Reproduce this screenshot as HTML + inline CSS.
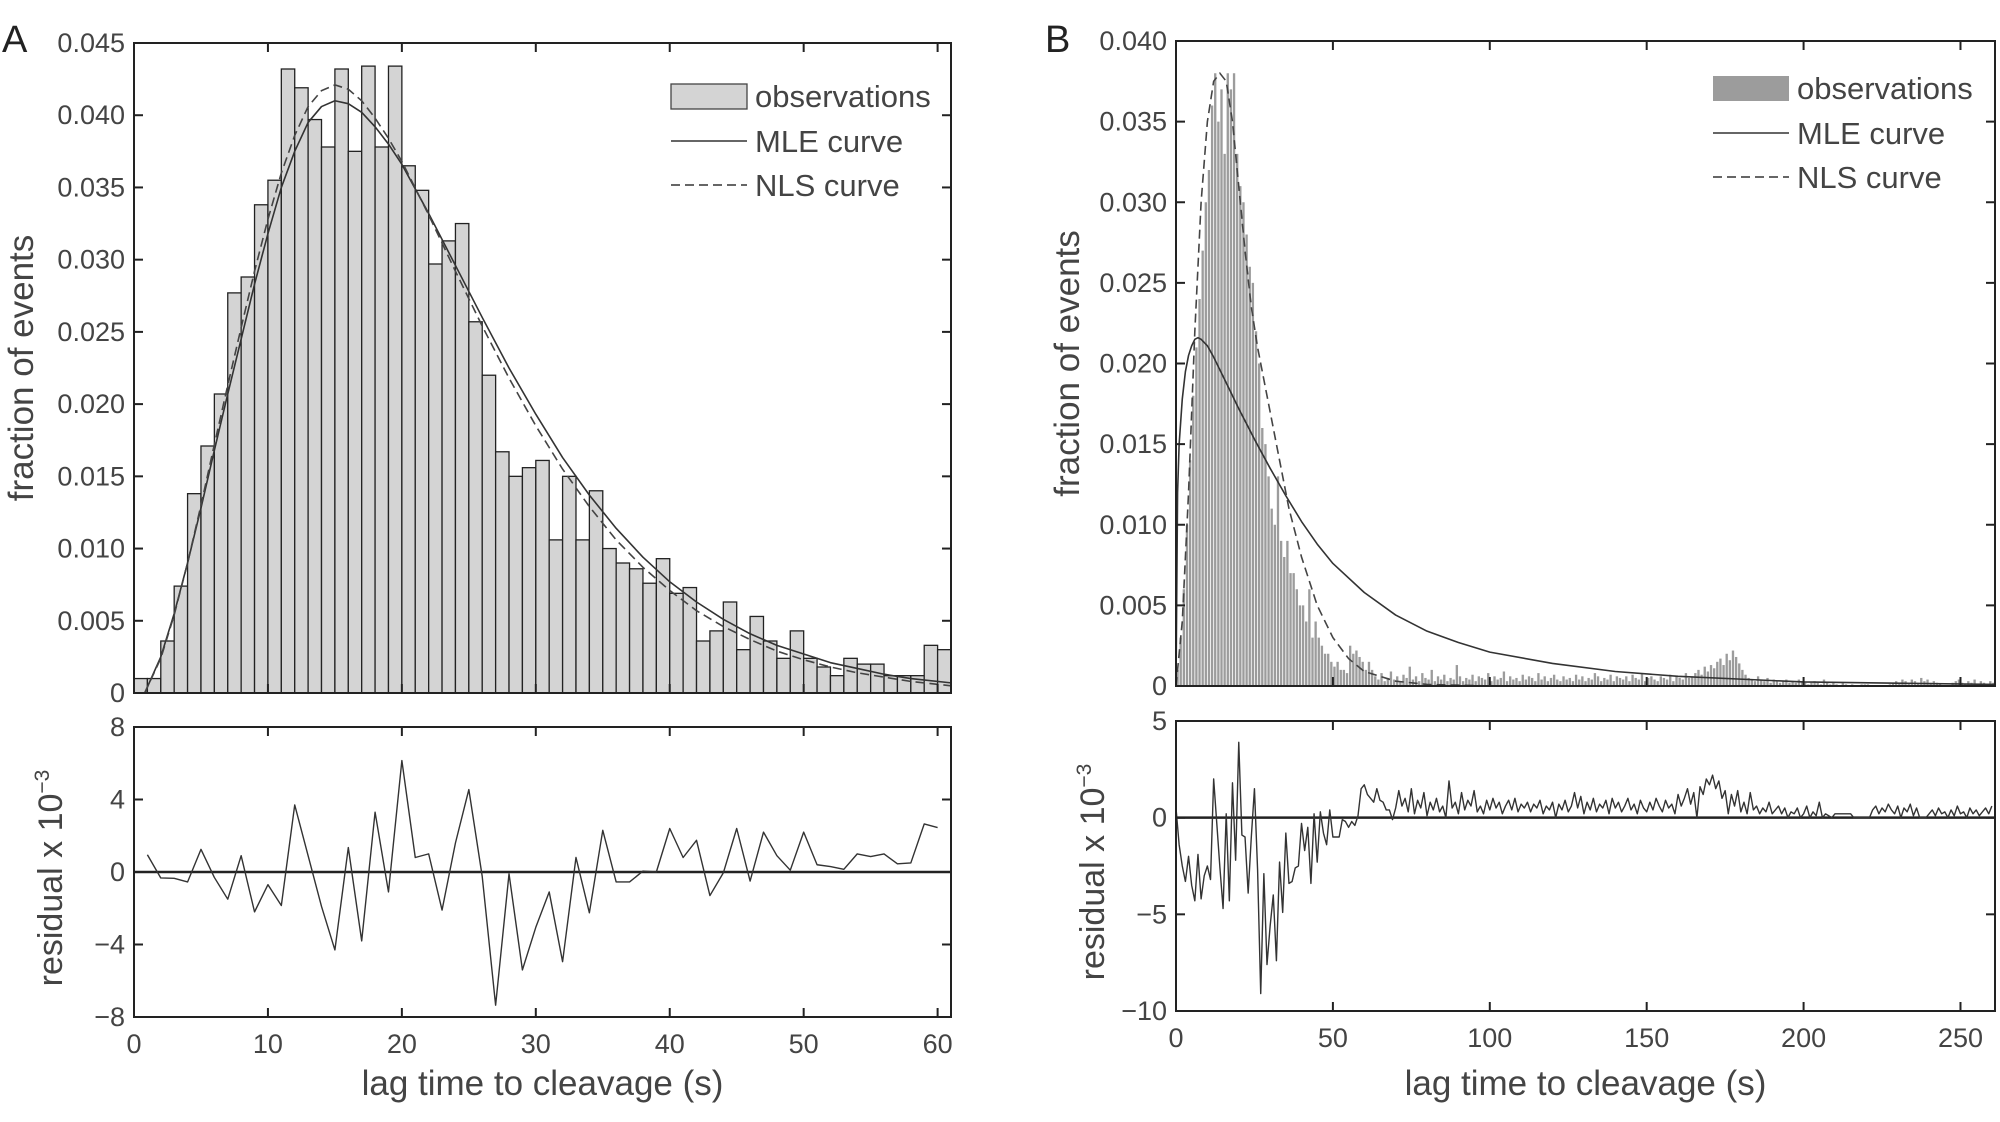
<!DOCTYPE html>
<html><head><meta charset="utf-8"><style>
html,body{margin:0;padding:0;background:#fff;}
svg{display:block;font-family:"Liberation Sans",sans-serif;}
</style></head><body>
<svg id="fig" width="2000" height="1122" viewBox="0 0 2000 1122"></svg>
<script>
// ---------- Panel A data ----------
const barsA = [0.001,0.001,0.0036,0.0074,0.0138,0.0171,0.0207,0.0277,0.0288,0.0338,0.0355,0.0432,0.0419,0.0397,0.0378,0.0432,0.0375,0.0434,0.0378,0.0434,0.0365,0.0348,0.0297,0.0313,0.0325,0.0257,0.0220,0.0167,0.0150,0.0156,0.0161,0.0106,0.0150,0.0106,0.0140,0.0100,0.0090,0.0086,0.0076,0.0093,0.0069,0.0073,0.0036,0.0043,0.0063,0.0030,0.0053,0.0036,0.0024,0.0043,0.0024,0.0018,0.0012,0.0024,0.0020,0.0020,0.0012,0.0012,0.0012,0.0033,0.0030];
const curveAx = [0.8,2,3,4,5,6,7,8,9,10,11,12,13,14,15,16,17,18,19,20,22,24,26,28,30,32,34,36,38,40,42,44,46,48,50,52,54,56,58,61];
const mleA = [0,0.0025,0.0055,0.009,0.0128,0.0168,0.0207,0.0245,0.0283,0.0318,0.0350,0.0375,0.0395,0.0406,0.0410,0.0408,0.0402,0.0392,0.0380,0.0366,0.0332,0.0296,0.0260,0.0225,0.0193,0.0163,0.0137,0.0114,0.0094,0.0077,0.0063,0.0051,0.0041,0.0033,0.0027,0.0021,0.0017,0.0013,0.0010,0.0007];
const nlsA = [0,0.0024,0.0054,0.009,0.013,0.0172,0.0213,0.0253,0.0292,0.0328,0.0360,0.0386,0.0406,0.0417,0.0421,0.0418,0.0410,0.0398,0.0384,0.0368,0.0331,0.0292,0.0254,0.0218,0.0185,0.0155,0.0129,0.0106,0.0087,0.0071,0.0057,0.0046,0.0037,0.0029,0.0023,0.0018,0.0014,0.0011,0.0008,0.0005];
const residA = [0.95,-0.33,-0.35,-0.55,1.25,-0.3,-1.5,0.9,-2.2,-0.7,-1.85,3.7,0.9,-1.9,-4.3,1.35,-3.8,3.3,-1.1,6.15,0.8,1.0,-2.1,1.6,4.55,-0.25,-7.35,-0.1,-5.4,-3.05,-1.1,-4.95,0.8,-2.25,2.3,-0.55,-0.55,0.05,0,2.4,0.8,1.75,-1.3,-0.05,2.4,-0.5,2.2,0.9,0.1,2.2,0.4,0.3,0.15,1.0,0.85,1.0,0.45,0.5,2.65,2.45];
const yTicksA = [0,0.005,0.010,0.015,0.020,0.025,0.030,0.035,0.040,0.045];
const yTickLabelsA = ["0","0.005","0.010","0.015","0.020","0.025","0.030","0.035","0.040","0.045"];
const xTicksA = [0,10,20,30,40,50,60];
const rTicksA = [8,4,0,-4,-8];
const rTickLabelsA = ["8","4","0","\u22124","\u22128"];
// ---------- Panel B data ----------
const barsB = [0.001,0.003,0.006,0.010,0.014,0.018,0.021,0.024,0.027,0.030,0.032,0.036,0.038,0.035,0.037,0.033,0.038,0.037,0.038,0.033,0.031,0.030,0.028,0.026,0.025,0.022,0.020,0.016,0.015,0.013,0.011,0.010,0.013,0.009,0.008,0.009,0.007,0.007,0.006,0.005,0.005,0.004,0.006,0.003,0.004,0.003,0.0025,0.002,0.002,0.0015,0.0012,0.0015,0.001,0.001,0.0008,0.0025,0.002,0.0022,0.0018,0.0015,0.001,0.0015,0.001,
.0006,.0004,.0008,.0003,.0005,.0009,.0004,.0006,.0003,.0007,
.0005,.0012,.0004,.0006,.0003,.0008,.0005,.0004,.0010,.0003,
.0006,.0004,.0007,.0003,.0005,.0004,.0013,.0006,.0003,.0005,
.0004,.0007,.0003,.0006,.0005,.0004,.0008,.0003,.0006,.0004,
.0005,.0009,.0003,.0006,.0004,.0005,.0003,.0007,.0004,.0006,
.0005,.0003,.0008,.0004,.0006,.0003,.0005,.0007,.0004,.0003,
.0006,.0004,.0005,.0003,.0007,.0004,.0006,.0003,.0005,.0004,
.0008,.0006,.0003,.0005,.0004,.0007,.0003,.0006,.0005,.0004,
.0006,.0003,.0007,.0005,.0004,.0008,.0003,.0005,.0006,.0004,
.0003,.0006,.0005,.0004,.0007,.0003,.0006,.0005,.0004,.0008,
.0005,.0006,.0008,.0010,.0007,.0012,.0009,.0013,.0011,.0015,
.0017,.0013,.0020,.0016,.0022,.0018,.0014,.0010,.0007,.0005,
.0004,.0003,.0006,.0004,.0003,.0005,.0002,.0004,.0003,.0002,
.0003,.0004,.0002,.0003,.0002,.0004,.0003,.0002,.0001,.0002,
.0003,.0002,.0001,.0004,.0002,.0001,.0002,.0001,0,.0002,
.0001,0,.0001,0,0,.0001,.0001,.0001,0,0,
0,0,0,0,.0001,.0002,.0003,.0002,.0004,.0003,
.0002,.0004,.0003,.0002,.0005,.0003,.0004,.0002,.0003,.0002,
.0001,0,0,0,.0002,.0003,.0004,.0002,.0001,.0003,
.0002,.0004,.0001,.0003,.0002,.0001,.0003,.0002];
const mleBx = [0,0.5,1,2,3,4,5,6,7,8,10,12,15,20,25,30,35,40,45,50,60,70,80,90,100,120,140,160,200,261];
const mleB = [0,0.012,0.015,0.0178,0.0195,0.0205,0.0211,0.0215,0.0216,0.0215,0.0211,0.0204,0.0192,0.0172,0.0153,0.0135,0.0118,0.0102,0.0088,0.0076,0.0058,0.0044,0.0034,0.0027,0.0021,0.0014,0.0009,0.0006,0.00025,0.0001];
const nlsBx = [0,2,4,6,8,10,12,14,16,18,20,22,24,26,28,30,32,34,36,38,40,45,50,55,60,70,80,100,261];
const nlsB = [0,0.004,0.012,0.022,0.030,0.035,0.0375,0.038,0.0375,0.035,0.031,0.027,0.0235,0.021,0.019,0.017,0.015,0.013,0.011,0.0095,0.008,0.005,0.003,0.0017,0.0009,0.0003,0.0001,0,0];
const residB = [0.5,-1.4,-2.5,-3.3,-2.0,-3.5,-4.3,-1.9,-4.2,-3.0,-2.5,-3.2,2.0,-0.3,-2.6,-4.7,0.2,-4.3,1.8,-2.2,3.9,-0.9,-1.0,-3.9,-1.0,1.5,-2.7,-9.1,-2.9,-7.6,-5.6,-4.0,-7.4,-2.3,-4.9,-0.8,-3.4,-3.3,-2.6,-2.5,-0.3,-1.7,-0.5,-3.4,0.2,-2.3,0.3,-0.8,-1.4,0.4,-1.0,-1.0,-1.0,-0.1,-0.2,-0.5,-0.2,-0.4,0.1,1.5,1.7,1.2,1.0,0.8,1.5,0.9,0.8,0.4,0.4,-0.1,0.5,
1.4,0.6,1.0,0.3,1.5,0.2,0.9,0.5,1.3,0.1,
0.8,0.4,1.0,0.3,0.6,0,1.9,0.5,0.8,0.2,
1.3,0.4,0.9,0.6,1.4,0.3,0.6,0.2,0.9,0.4,
1.0,0.5,0.8,0.2,0.6,0.9,0.4,1.0,0.3,0.7,
0.5,0.8,0.3,0.7,0.5,0.9,0.2,0.6,0.4,0.8,
0,0.7,0.4,0.9,0.3,0.6,1.3,0.5,1.1,0.2,
0.8,0.4,1.0,0.3,0.7,0.5,0.9,0.2,1.0,0.5,
0.8,0.3,0.6,1.0,0.4,0.7,0.2,0.9,0.5,0.3,
0.8,0.4,1.0,0.6,0.3,0.9,0.5,0.7,0.2,1.2,
0.6,1.0,1.5,0.7,1.3,0,1.6,1.2,2.0,1.7,
2.2,1.5,1.9,1.0,1.4,0.2,1.2,0.6,1.4,0.3,
0.8,0.2,1.3,0.4,0.6,0.2,0.5,0.3,0.8,0.2,
0.4,0.6,0.2,0.5,0,0.3,0.2,0.5,0,0.2,
0.6,0,0.3,0.1,0.8,0,0.2,0.1,0,0.2,
0.2,0.2,0.2,0.2,0.2,0,0,0,0,0,
0,0.4,0.6,0.2,0.5,0.3,0.7,0.4,0.2,0.6,
0,0.5,0.3,0.7,0.1,0.5,0,0,0,0.2,
0.4,0.1,0.5,0.2,0.3,0,0.4,0.1,0.6,0.2,
0.3,0,0.5,0.2,0.4,0.1,0.3,0.5,0.2,0.6];
const yTicksB = [0,0.005,0.010,0.015,0.020,0.025,0.030,0.035,0.040];
const yTickLabelsB = ["0","0.005","0.010","0.015","0.020","0.025","0.030","0.035","0.040"];
const xTicksB = [0,50,100,150,200,250];
const rTicksB = [5,0,-5,-10];
const rTickLabelsB = ["5","0","\u22125","\u221210"];

const NS = "http://www.w3.org/2000/svg";
const svg = document.getElementById("fig");
const TICK_FS = 27, TITLE_FS = 35, LEG_FS = 31;
function el(tag, attrs, parent, name) {
  const e = document.createElementNS(NS, tag);
  for (const k in attrs) e.setAttribute(k, attrs[k]);
  
  
  (parent || svg).appendChild(e);
  return e;
}
function scale(d0, d1, r0, r1) { return v => r0 + (v - d0) / (d1 - d0) * (r1 - r0); }
function txt(s, x, y, size, anchor, name, extra) {
  const t = el('text', Object.assign({x: x, y: y, 'font-size': size, fill: '#444', 'text-anchor': anchor}, extra || {}), svg, name);
  t.textContent = s;
  return t;
}
function frame(L, R, T, B, name) {
  el('rect', {x: L, y: T, width: R - L, height: B - T, fill: 'none', stroke: '#222', 'stroke-width': 2}, svg, name);
}
function path(xs, ys, sx, sy, attrs, name) {
  let d = '';
  xs.forEach((x, i) => { d += (i ? 'L' : 'M') + sx(x).toFixed(2) + ',' + sy(ys[i]).toFixed(2); });
  return el('path', Object.assign({d: d, fill: 'none'}, attrs), svg, name);
}

function panel(cfg) {
  const sx = scale(0, cfg.xmax, cfg.L, cfg.R);
  const sy = scale(0, cfg.ymax, cfg.B, cfg.T);
  const sr = scale(cfg.rmin, cfg.rmax, cfg.RB, cfg.RT);
  const g = el('g', {}, svg, cfg.id + '-bars');
  cfg.bars.forEach((v, i) => {
    if (v <= 0) return;
    const x0 = sx(i), x1 = sx(Math.min(i + 1, cfg.xmax));
    const b = document.createElementNS(NS, 'rect');
    b.setAttribute('x', x0 + cfg.barInset);
    b.setAttribute('y', sy(v));
    b.setAttribute('width', Math.max(0.5, x1 - x0 - 2 * cfg.barInset));
    b.setAttribute('height', sy(0) - sy(v));
    b.setAttribute('fill', cfg.barFill);
    b.setAttribute('stroke', cfg.barStroke);
    b.setAttribute('stroke-width', cfg.barStrokeW);
    
    
    g.appendChild(b);
  });
  path(cfg.mleX, cfg.mle, sx, sy, {stroke: '#333', 'stroke-width': 1.6, 'stroke-linejoin': 'round'}, cfg.id + '-mle-curve');
  path(cfg.nlsX, cfg.nls, sx, sy, {stroke: '#444', 'stroke-width': 1.6, 'stroke-dasharray': '9,5'}, cfg.id + '-nls-curve');
  frame(cfg.L, cfg.R, cfg.T, cfg.B, cfg.id + '-main-frame');
  cfg.yTicks.forEach((v, i) => {
    const y = sy(v);
    el('line', {x1: cfg.L, x2: cfg.L + 9, y1: y, y2: y, stroke: '#222', 'stroke-width': 2}, svg, 'y-tick');
    el('line', {x1: cfg.R, x2: cfg.R - 9, y1: y, y2: y, stroke: '#222', 'stroke-width': 2}, svg, 'y-tick-right');
    txt(cfg.yLabels[i], cfg.L - 9, y + 9, TICK_FS, 'end', 'y-tick-label');
  });
  cfg.xTicks.forEach(v => {
    const x = sx(v);
    el('line', {x1: x, x2: x, y1: cfg.T, y2: cfg.T + 9, stroke: '#222', 'stroke-width': 2}, svg, 'x-tick-top');
    el('line', {x1: x, x2: x, y1: cfg.B, y2: cfg.B - 9, stroke: '#222', 'stroke-width': 2}, svg, 'x-tick');
    el('line', {x1: x, x2: x, y1: cfg.RT, y2: cfg.RT + 9, stroke: '#222', 'stroke-width': 2}, svg, 'resid-x-tick-top');
    el('line', {x1: x, x2: x, y1: cfg.RB, y2: cfg.RB - 9, stroke: '#222', 'stroke-width': 2}, svg, 'resid-x-tick');
    txt(String(v), x, cfg.RB + 36, TICK_FS, 'middle', 'x-tick-label');
  });
  el('line', {x1: cfg.L, x2: cfg.R, y1: sr(0), y2: sr(0), stroke: '#222', 'stroke-width': 2.5}, svg, cfg.id + '-zero-line');
  const rx = cfg.resid.map((v, i) => i + cfg.rOffset);
  path(rx, cfg.resid, sx, sr, {stroke: '#333', 'stroke-width': 1.4, 'stroke-linejoin': 'round'}, cfg.id + '-residual-line');
  frame(cfg.L, cfg.R, cfg.RT, cfg.RB, cfg.id + '-resid-frame');
  cfg.rTicks.forEach((v, i) => {
    const y = sr(v);
    el('line', {x1: cfg.L, x2: cfg.L + 9, y1: y, y2: y, stroke: '#222', 'stroke-width': 2}, svg, 'resid-y-tick');
    el('line', {x1: cfg.R, x2: cfg.R - 9, y1: y, y2: y, stroke: '#222', 'stroke-width': 2}, svg, 'resid-y-tick-right');
    txt(cfg.rLabels[i], cfg.L - 9, y + 9, TICK_FS, 'end', 'resid-y-tick-label');
  });
  txt('fraction of events', 0, 0, TITLE_FS, 'middle', cfg.id + '-y-axis-title', {transform: 'translate(' + cfg.yTitleX + ',' + ((cfg.T + cfg.B) / 2) + ') rotate(-90)'});
  const rt = txt('residual x 10', 0, 0, 34, 'middle', cfg.id + '-residual-axis-title', {transform: 'translate(' + cfg.rTitleX + ',' + ((cfg.RT + cfg.RB) / 2 + 6) + ') rotate(-90)'});
  const sup = document.createElementNS(NS, 'tspan');
  sup.setAttribute('dy', '-13'); sup.setAttribute('font-size', '21');
  sup.textContent = '\u22123';
  rt.appendChild(sup);
  txt('lag time to cleavage (s)', (cfg.L + cfg.R) / 2, 1095, TITLE_FS, 'middle', cfg.id + '-x-axis-title');
  txt(cfg.letter, cfg.letterX, 52, 38, 'start', cfg.id + '-panel-label', {fill: '#222'});
  const lx = cfg.legX;
  el('rect', {x: lx, y: cfg.legY - 13, width: 76, height: 25, fill: cfg.barFill, stroke: cfg.legBoxStroke, 'stroke-width': 1.3}, svg, 'legend-observations-swatch');
  txt('observations', lx + 84, cfg.legY + 10, LEG_FS, 'start', 'legend-observations-label');
  el('line', {x1: lx, x2: lx + 76, y1: cfg.legY + 44, y2: cfg.legY + 44, stroke: '#333', 'stroke-width': 1.5}, svg, 'legend-mle-swatch');
  txt('MLE curve', lx + 84, cfg.legY + 55, LEG_FS, 'start', 'legend-mle-label');
  el('line', {x1: lx, x2: lx + 76, y1: cfg.legY + 88, y2: cfg.legY + 88, stroke: '#333', 'stroke-width': 1.5, 'stroke-dasharray': '9,5'}, svg, 'legend-nls-swatch');
  txt('NLS curve', lx + 84, cfg.legY + 99, LEG_FS, 'start', 'legend-nls-label');
}

panel({id: 'panel-a', letter: 'A', letterX: 2, L: 134, R: 951, T: 43, B: 693, RT: 727, RB: 1017,
  xmax: 61, ymax: 0.045, rmin: -8, rmax: 8, bars: barsA, barInset: 0, barFill: '#d4d4d4', barStroke: '#222', barStrokeW: 1.3,
  mleX: curveAx, mle: mleA, nlsX: curveAx, nls: nlsA, resid: residA, rOffset: 1,
  yTicks: yTicksA, yLabels: yTickLabelsA, xTicks: xTicksA, rTicks: rTicksA, rLabels: rTickLabelsA,
  yTitleX: 33, rTitleX: 62, legX: 671, legY: 97, legBoxStroke: '#444'});
panel({id: 'panel-b', letter: 'B', letterX: 1045, L: 1176, R: 1995, T: 41, B: 686, RT: 721, RB: 1011,
  xmax: 261, ymax: 0.040, rmin: -10, rmax: 5, bars: barsB, barInset: 0.4, barFill: '#9c9c9c', barStroke: 'none', barStrokeW: 0,
  mleX: mleBx, mle: mleB, nlsX: nlsBx, nls: nlsB, resid: residB, rOffset: 0,
  yTicks: yTicksB, yLabels: yTickLabelsB, xTicks: xTicksB, rTicks: rTicksB, rLabels: rTickLabelsB,
  yTitleX: 1079, rTitleX: 1104, legX: 1713, legY: 89, legBoxStroke: 'none'});
</script>
</body></html>
